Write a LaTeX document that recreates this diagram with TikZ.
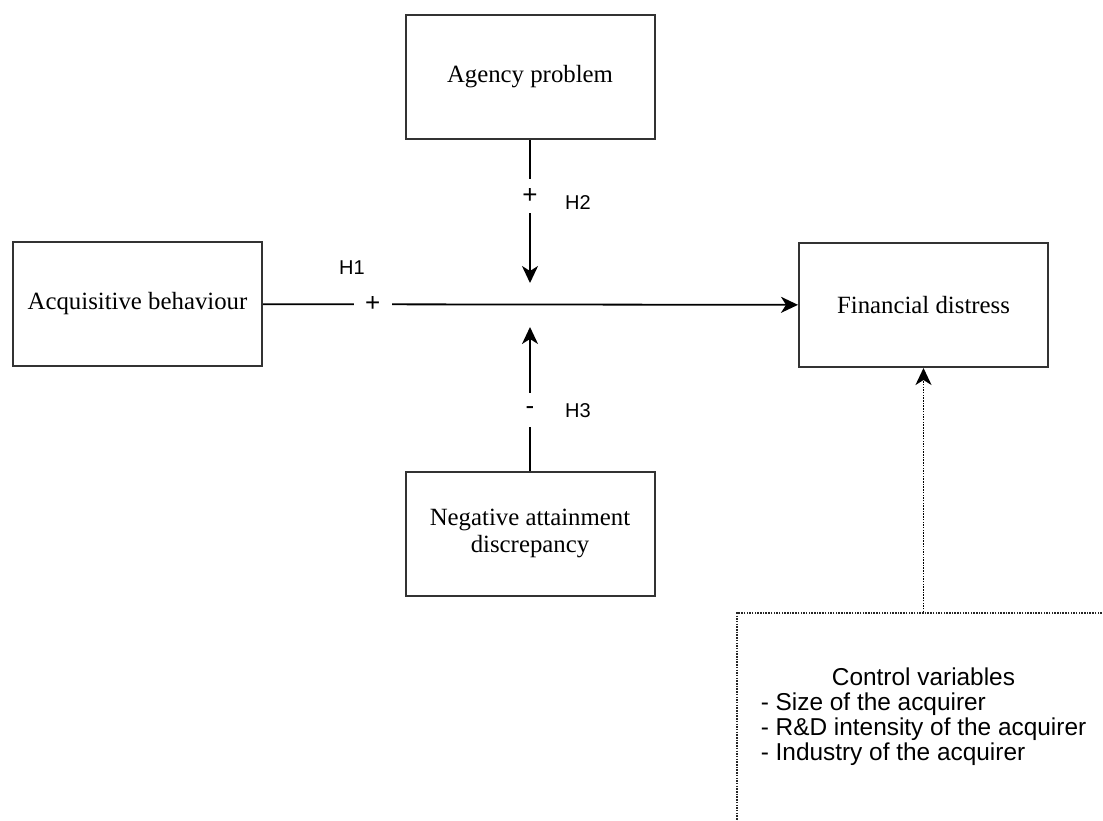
\documentclass[tikz,border=0pt]{standalone}
\usepackage{fontspec}
\setmainfont{Liberation Serif}
\newfontfamily\arialfont{Liberation Sans}
\usetikzlibrary{arrows.meta}

\begin{document}
\begin{tikzpicture}[x=1pt, y=-1pt,
  varbox/.style = {draw=black!80, line width=2pt, minimum width=249pt, minimum height=124pt,
    inner sep=0pt, align=center, font=\fontsize{24.8}{27}\selectfont},
  ctrlbox/.style = {draw=black!85, line width=1.8pt, dash pattern=on 1.5pt off 1.2pt,
    minimum width=373pt, minimum height=210pt, inner sep=0pt, font=\arialfont\fontsize{24.4}{24.8}\selectfont},
  hyp/.style = {inner sep=0pt, font=\arialfont\fontsize{20}{22}\selectfont},
  sign/.style = {fill=white, inner sep=0pt, minimum width=38pt, minimum height=34pt,
    font=\arialfont\fontsize{26}{26}\selectfont},
  link/.style = {line width=1.8pt, -{Stealth[length=17pt, width=16pt, inset=5pt]}}]

  \useasboundingbox (0,0) rectangle (1103,820);

  \node[varbox] (acq) at (137.5,304) {Acquisitive behaviour};
  \node[varbox] (agency) at (530,77) {Agency problem};
  \node[varbox] (neg) at (530,533.5) {Negative attainment\\discrepancy};
  \node[varbox] (fin) at (923.5,305) {Financial distress};

  \coordinate (hit1) at (530,283);
  \coordinate (hit2) at (530,327);

  % main path and the two moderators
  \draw[link] (acq) -- node[sign, pos=0.205] (plus1) {+} (fin);
  \draw[link] (agency) -- node[sign, pos=0.39] (plus2) {+} (hit1);
  \draw[link] (neg) -- node[sign, pos=0.42] (minus3) {-} (hit2);

  \node[hyp] (h1) at (352,268) {H1};
  \node[hyp] (h2) at (578,203) {H2};
  \node[hyp] (h3) at (578,411) {H3};

  \node[ctrlbox] (ctrl) at (923.5,718) {\begin{tabular}{@{}l@{}}
    \multicolumn{1}{@{}c@{}}{Control variables}\\
    - Size of the acquirer\\
    - R\&D intensity of the acquirer\\
    - Industry of the acquirer
  \end{tabular}};

  \draw[link, dash pattern=on 1.5pt off 1.2pt] (ctrl) -- (fin);
\end{tikzpicture}
\end{document}
